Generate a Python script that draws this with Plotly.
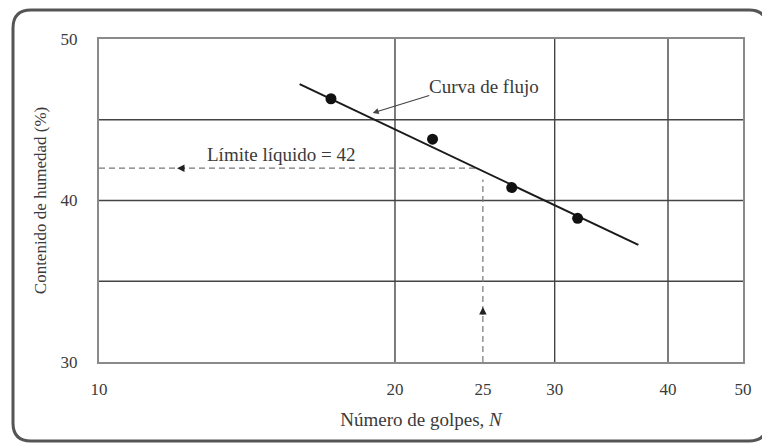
import math
import plotly.graph_objects as go

# ---- data ----
golpes = [17.0, 22.0, 26.9, 31.8]          # N
humedad = [46.3, 43.8, 40.8, 38.9]         # %
curva_x = [15.7, 37.1]
curva_y = [47.2, 37.25]
limite_liquido = 42
n_25 = 25
grid_x = [20, 30, 40]
grid_y = [35, 40, 45]
x_tick_labels = ["10", "20", "25", "30", "40", "50"]
y_tick_vals = [30, 40, 50]

# axis range (log10) matched to the drawn grid of the reference
x_lo, x_hi = 0.97468, 1.68475
x_tick_vals = [10 ** x_lo, 20, 25, 30, 40, 10 ** x_hi]
y_lo, y_hi = 30, 50

FONT = "Liberation Serif"
TXT = "#3a3a3a"
GRID = "#444444"

fig = go.Figure()

# grid lines
for gx in grid_x:
    fig.add_trace(go.Scatter(x=[gx, gx], y=[y_lo, y_hi], mode="lines",
                             line=dict(color=GRID, width=1.4), hoverinfo="skip", showlegend=False))
for gy in grid_y:
    fig.add_trace(go.Scatter(x=[10 ** x_lo, 10 ** x_hi], y=[gy, gy], mode="lines",
                             line=dict(color=GRID, width=1.4), hoverinfo="skip", showlegend=False))

# dashed guides
fig.add_trace(go.Scatter(x=[10 ** x_lo, n_25 * 0.985], y=[limite_liquido, limite_liquido], mode="lines",
                         line=dict(color="#777777", width=1.2, dash="6px,4px"), showlegend=False))
fig.add_trace(go.Scatter(x=[n_25, n_25], y=[y_lo, 41.3], mode="lines",
                         line=dict(color="#777777", width=1.2, dash="6px,4px"), showlegend=False))

# flow curve
fig.add_trace(go.Scatter(x=curva_x, y=curva_y, mode="lines",
                         line=dict(color="#1a1a1a", width=2), showlegend=False))
# points
fig.add_trace(go.Scatter(x=golpes, y=humedad, mode="markers",
                         marker=dict(color="#111111", size=11), showlegend=False))

L = math.log10
# small arrowheads on dashed guides
fig.add_annotation(x=L(11.5), y=limite_liquido, ax=9, ay=0, text="", showarrow=True,
                   arrowhead=2, arrowsize=1, arrowwidth=1.5, arrowcolor="#222")
fig.add_annotation(x=L(n_25), y=33.4, ax=0, ay=9, text="", showarrow=True,
                   arrowhead=2, arrowsize=1, arrowwidth=1.5, arrowcolor="#222")
# Curva de flujo arrow
fig.add_annotation(x=L(18.9), y=45.42, ax=L(21.9), ay=46.53, axref="x", ayref="y", text="",
                   showarrow=True, arrowhead=2, arrowsize=1, arrowwidth=1.2, arrowcolor="#444")
fig.add_annotation(x=1.3991, y=47.03, text="Curva de flujo", showarrow=False,
                   font=dict(family=FONT, size=19, color=TXT))
fig.add_annotation(x=1.1753, y=42.82, text="Límite líquido = 42", showarrow=False,
                   font=dict(family=FONT, size=19, color=TXT))

# figure geometry (page is offset 8px by the body margin)
W, H = 762, 436
l, t, w, h = 91, 31, 644, 323
def px(x): return (x - l) / w
def py(y): return (t + h - y) / h
X0, X1, Y0, Y1, r = 5, 759, 2, 433, 18
path = (f"M {px(X0 + r)},{py(Y0)} L {px(X1 - r)},{py(Y0)} Q {px(X1)},{py(Y0)} {px(X1)},{py(Y0 + r)} "
        f"L {px(X1)},{py(Y1 - r)} Q {px(X1)},{py(Y1)} {px(X1 - r)},{py(Y1)} "
        f"L {px(X0 + r)},{py(Y1)} Q {px(X0)},{py(Y1)} {px(X0)},{py(Y1 - r)} "
        f"L {px(X0)},{py(Y0 + r)} Q {px(X0)},{py(Y0)} {px(X0 + r)},{py(Y0)} Z")
fig.add_shape(type="path", path=path, xref="paper", yref="paper",
              line=dict(color="#555555", width=3))

fig.update_layout(
    width=W, height=H,
    margin=dict(l=l, r=W - l - w, t=t, b=H - t - h),
    paper_bgcolor="white", plot_bgcolor="white",
    font=dict(family=FONT, color=TXT, size=17),
    xaxis=dict(type="log", range=[x_lo, x_hi], tickvals=x_tick_vals, ticktext=x_tick_labels,
               showgrid=False, zeroline=False, showline=True, mirror=True,
               linecolor="#8a8a8a", linewidth=2, ticks="outside", ticklen=11, tickcolor="rgba(0,0,0,0)",
               tickfont=dict(family=FONT, size=17, color=TXT),
               title=dict(text="Número de golpes, <i>N</i>", font=dict(family=FONT, size=19, color=TXT),
                          standoff=14)),
    yaxis=dict(range=[y_lo, y_hi], tickvals=y_tick_vals, showgrid=False, zeroline=False,
               showline=True, mirror=True, linecolor="#8a8a8a", linewidth=2,
               ticks="outside", ticklen=16, tickcolor="rgba(0,0,0,0)",
               tickfont=dict(family=FONT, size=17, color=TXT),
               title=dict(text="Contenido de humedad (%)", font=dict(family=FONT, size=17, color=TXT),
                          standoff=10)),
)

fig.write_html("out.html")
